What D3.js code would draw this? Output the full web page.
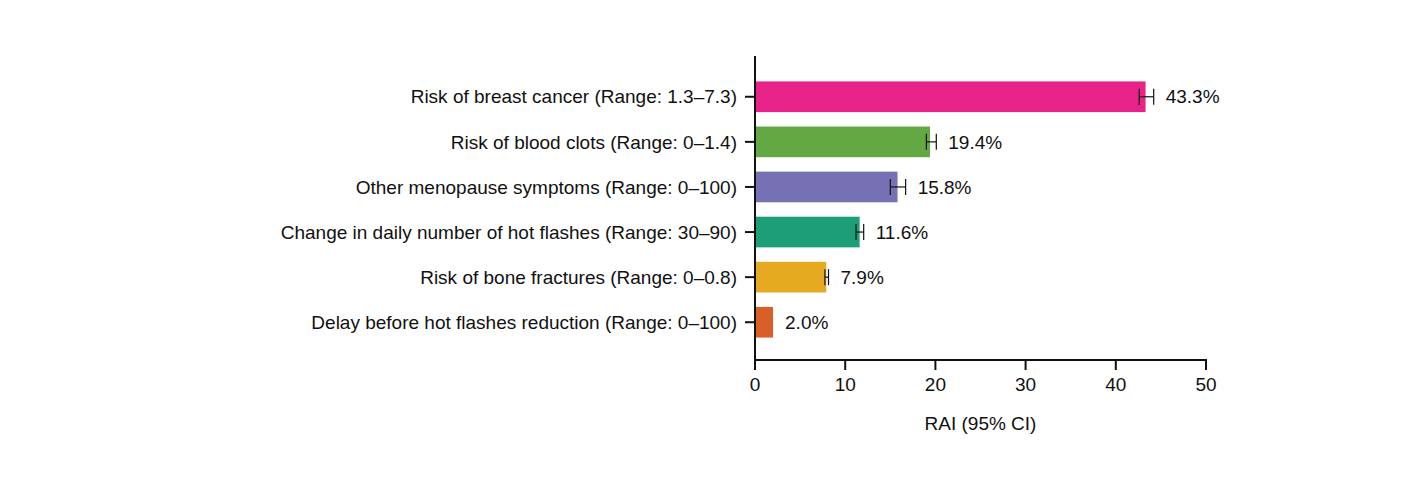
<!DOCTYPE html>
<html><head><meta charset="utf-8">
<script src="https://cdn.jsdelivr.net/npm/d3@7"></script>
<style>body{margin:0;background:#fff}text{font-family:"Liberation Sans",Arial,sans-serif}</style>
</head><body><div id="chart"></div>
<script>
const categories = [
  "Risk of breast cancer (Range: 1.3–7.3)",
  "Risk of blood clots (Range: 0–1.4)",
  "Other menopause symptoms (Range: 0–100)",
  "Change in daily number of hot flashes (Range: 30–90)",
  "Risk of bone fractures (Range: 0–0.8)",
  "Delay before hot flashes reduction (Range: 0–100)"
];
const values = [43.3, 19.4, 15.8, 11.6, 7.9, 2.0];
const ciLow = [42.6, 19.0, 15.0, 11.2, 7.75, null];
const ciHigh = [44.2, 20.1, 16.7, 12.05, 8.15, null];
const colors = ["#e7238a", "#63a843", "#7571b4", "#1e9e77", "#e6aa20", "#d95f28"];
const xTicks = [0, 10, 20, 30, 40, 50];

const svg = d3.select('#chart').append('svg').attr('width', 1421).attr('height', 496);
const x = d3.scaleLinear().domain([0, 50]).range([755, 1206]);
const y = d3.scaleBand().domain(categories).range([67, 352]).padding(0.32);
const axisY = 360;

// bars
svg.selectAll('.bar').data(categories).join('rect')
  .attr('x', x(0)).attr('y', d => y(d))
  .attr('width', (d, i) => x(values[i]) - x(0))
  .attr('height', y.bandwidth())
  .attr('fill', (d, i) => colors[i]);

// error bars
categories.forEach((c, i) => {
  if (ciLow[i] == null) return;
  const cy = y(c) + y.bandwidth() / 2;
  const g = svg.append('g').attr('stroke', '#111').attr('stroke-width', 1.2);
  g.append('line').attr('x1', x(ciLow[i])).attr('x2', x(ciHigh[i])).attr('y1', cy).attr('y2', cy);
  [ciLow[i], ciHigh[i]].forEach(v => g.append('line')
    .attr('x1', x(v)).attr('x2', x(v)).attr('y1', cy - 8).attr('y2', cy + 8));
});

// value labels
svg.selectAll('.val').data(categories).join('text')
  .attr('x', (d, i) => x(ciHigh[i] != null ? ciHigh[i] : values[i]) + 12)
  .attr('y', d => y(d) + y.bandwidth() / 2)
  .attr('dy', '0.35em').attr('font-size', 19).attr('fill', '#111')
  .text((d, i) => values[i].toFixed(1) + '%');

// y axis
svg.append('line').attr('x1', x(0)).attr('x2', x(0)).attr('y1', 56).attr('y2', axisY + 1)
  .attr('stroke', '#111').attr('stroke-width', 2);
categories.forEach(c => {
  const cy = y(c) + y.bandwidth() / 2;
  svg.append('line').attr('x1', x(0) - 10).attr('x2', x(0)).attr('y1', cy).attr('y2', cy)
    .attr('stroke', '#111').attr('stroke-width', 2);
  svg.append('text').attr('x', 737).attr('y', cy).attr('dy', '0.35em')
    .attr('text-anchor', 'end').attr('font-size', 19).attr('fill', '#111').text(c);
});

// x axis
svg.append('line').attr('x1', x(0) - 1).attr('x2', x(50) + 1).attr('y1', axisY).attr('y2', axisY)
  .attr('stroke', '#111').attr('stroke-width', 2);
xTicks.forEach(t => {
  svg.append('line').attr('x1', x(t)).attr('x2', x(t)).attr('y1', axisY).attr('y2', axisY + 10)
    .attr('stroke', '#111').attr('stroke-width', 2);
  svg.append('text').attr('x', x(t)).attr('y', axisY + 31).attr('text-anchor', 'middle')
    .attr('font-size', 19).attr('fill', '#111').text(t);
});
svg.append('text').attr('x', (x(0) + x(50)) / 2).attr('y', axisY + 70).attr('text-anchor', 'middle')
  .attr('font-size', 19).attr('fill', '#111').text('RAI (95% CI)');
</script></body></html>
